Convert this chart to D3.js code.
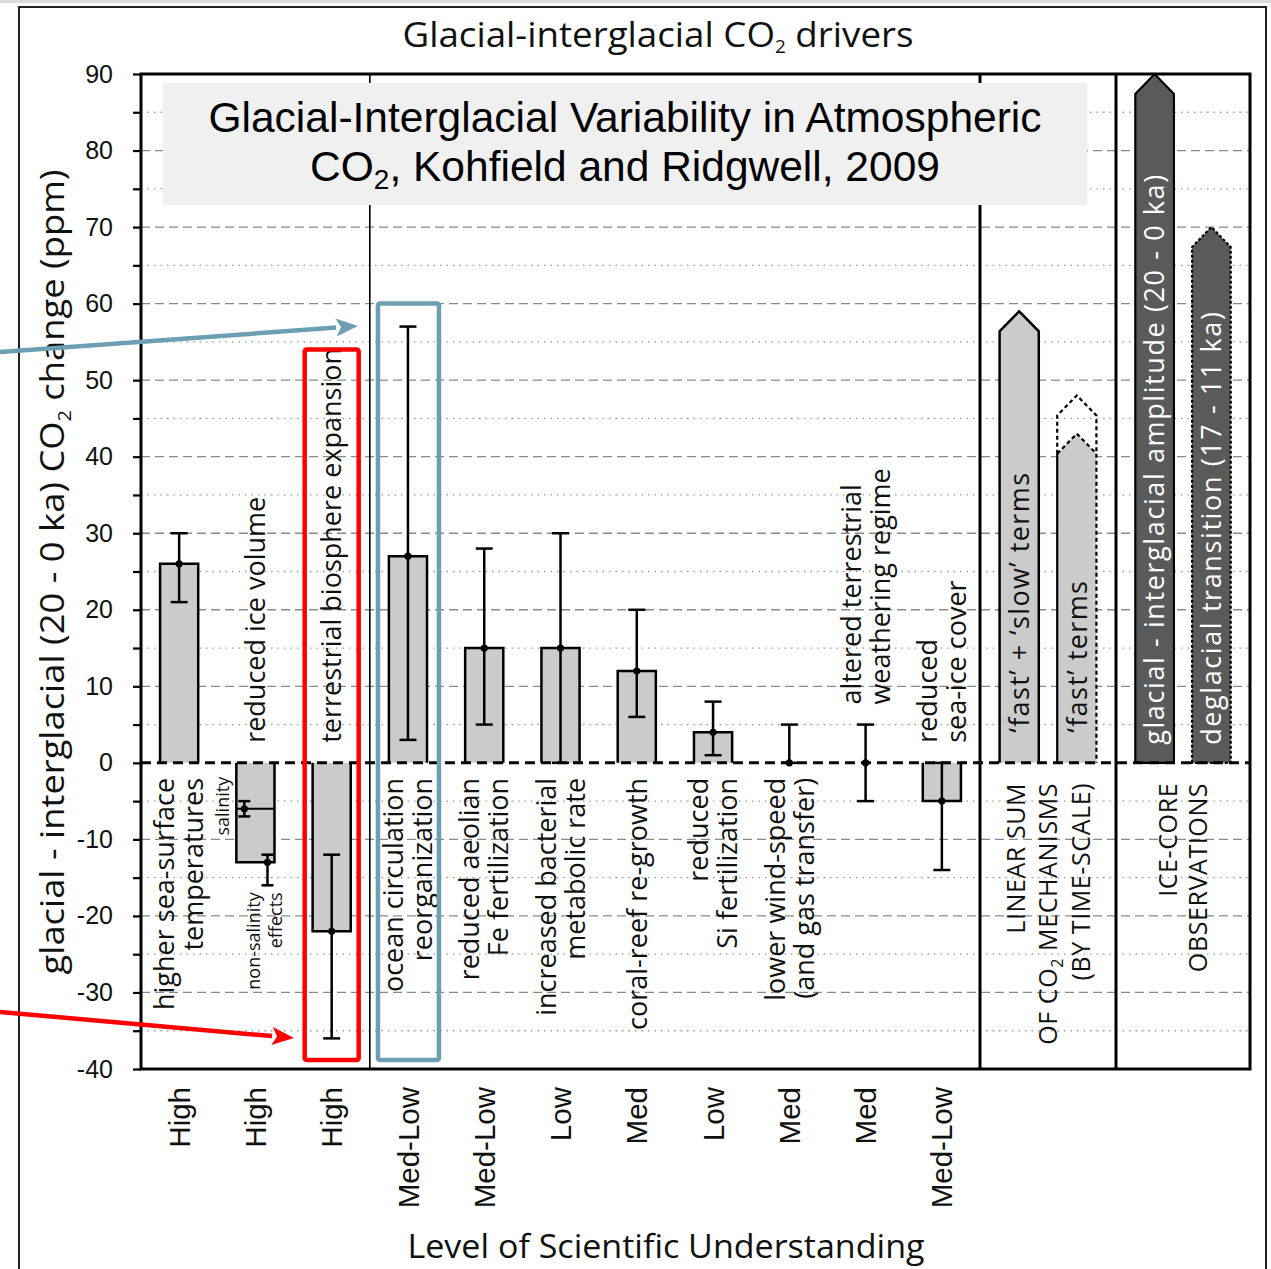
<!DOCTYPE html>
<html lang="en">
<head>
<meta charset="UTF-8">
<title>Glacial-interglacial CO2 drivers</title>
<script src="https://d3js.org/d3.v7.min.js"></script>
<style>
  html, body { margin: 0; padding: 0; background: #fff; }
  svg { display: block; }
  .myriad { font-family: "Open Sans", "DejaVu Sans", sans-serif; }
  .helv { font-family: "Liberation Sans", Arial, sans-serif; }
</style>
</head>
<body>
<div id="chart"></div>
<script>
// ---- data ----
const drivers = [
  ["higher sea-surface", "temperatures"],
  ["reduced ice volume"],
  ["terrestrial biosphere expansion"],
  ["ocean circulation", "reorganization"],
  ["reduced aeolian", "Fe fertilization"],
  ["increased bacterial", "metabolic rate"],
  ["coral-reef re-growth"],
  ["reduced", "Si fertilization"],
  ["lower wind-speed", "(and gas transfer)"],
  ["altered terrestrial", "weathering regime"],
  ["reduced", "sea-ice cover"]
];
const understanding = ["High", "High", "High", "Med-Low", "Med-Low", "Low", "Med", "Low", "Med", "Med", "Med-Low"];
const co2Change = [26, -13, -22, 27, 15, 15, 12, 4, 0, 0, -5];
const errLow  = [21, null, -36, 3, 5, 0, 6, 1, 0, -5, -14];
const errHigh = [30, null, -12, 57, 28, 30, 20, 8, 5, 5, 0];

// reduced ice volume split in two parts
const iceParts = ["salinity", "non-salinity effects"];
const iceValue = [-6, -13];
const iceLow   = [-7, -16];
const iceHigh  = [-5, -12];

// linear sum of mechanisms
const sumLabels = ["\u2018fast\u2019 + \u2018slow\u2019 terms", "\u2018fast\u2019 terms"];
const sumValues = [59, 43];
const sumUpper  = [null, 48];

// ice-core observations
const coreLabels = ["glacial - interglacial amplitude (20 - 0 ka)", "deglacial transition (17 - 11 ka)"];
const coreValues = [90, 70];

const yTicks = d3.range(-40, 91, 10);
const yMinor = d3.range(-35, 90, 10);

// ---- layout ----
const W = 1271, H = 1269;
const pL = 141, pR = 1250, pT = 74, pB = 1069;
const split1 = 980, split2 = 1116;
const LIGHT = "#cbcbcb", DARK = "#5a5a5a";
const head = 20;

const svg = d3.select("#chart").append("svg").attr("width", W).attr("height", H);

const y = d3.scaleLinear().domain([-40, 90]).range([pB, pT]);
const x = d3.scaleBand().domain(d3.range(drivers.length)).range([pL, split1]).paddingInner(0.5).paddingOuter(0.25);
const xSum = d3.scaleBand().domain(d3.range(sumValues.length)).range([split1, split2]).paddingInner(0.32).paddingOuter(0.34);
const xCore = d3.scaleBand().domain(d3.range(coreValues.length)).range([split2, pR]).paddingInner(0.32).paddingOuter(0.34);

// outer frame
svg.append("rect").attr("x", 0).attr("y", 0).attr("width", W).attr("height", 3).attr("fill", "#ddd");
svg.append("path").attr("d", `M19,${H} V7 H1266 V${H}`).attr("fill", "none").attr("stroke", "#222").attr("stroke-width", 2);

// gridlines
svg.append("g").selectAll("line").data(yTicks.filter(d => d > -40 && d < 90 && d !== 0)).join("line")
  .attr("x1", pL).attr("x2", pR).attr("y1", d => y(d)).attr("y2", d => y(d))
  .attr("stroke", "#8a8a8a").attr("stroke-width", 1.3).attr("stroke-dasharray", "9,5");
svg.append("g").selectAll("line").data(yMinor).join("line")
  .attr("x1", pL).attr("x2", pR).attr("y1", d => y(d)).attr("y2", d => y(d))
  .attr("stroke", "#9a9a9a").attr("stroke-width", 1.3).attr("stroke-dasharray", "1.5,5");

// thin separator between high-understanding group and the rest
svg.append("line").attr("x1", pL + x.step() * 3).attr("x2", pL + x.step() * 3)
  .attr("y1", pT).attr("y2", pB).attr("stroke", "#000").attr("stroke-width", 1.6);

// bars (open at the baseline)
const barPath = (x0, w, v) => `M${x0},${y(0)} V${y(v)} H${x0 + w} V${y(0)}`;
const bars = svg.append("g");
co2Change.forEach((v, i) => {
  if (v === 0) return;
  bars.append("rect").attr("x", x(i)).attr("width", x.bandwidth())
    .attr("y", Math.min(y(v), y(0))).attr("height", Math.abs(y(v) - y(0))).attr("fill", LIGHT);
  bars.append("path").attr("d", barPath(x(i), x.bandwidth(), v))
    .attr("fill", "none").attr("stroke", "#000").attr("stroke-width", 2.5);
});
// salinity divider in ice volume bar
bars.append("line").attr("x1", x(1)).attr("x2", x(1) + x.bandwidth())
  .attr("y1", y(iceValue[0])).attr("y2", y(iceValue[0])).attr("stroke", "#000").attr("stroke-width", 2.2);

// error bars
function errorBar(g, cx, lo, hi, v, cap) {
  g.append("line").attr("x1", cx).attr("x2", cx).attr("y1", y(lo)).attr("y2", y(hi)).attr("stroke", "#000").attr("stroke-width", 2.5);
  [lo, hi].forEach(e => g.append("line").attr("x1", cx - cap / 2).attr("x2", cx + cap / 2)
    .attr("y1", y(e)).attr("y2", y(e)).attr("stroke", "#000").attr("stroke-width", 2.5));
  g.append("circle").attr("cx", cx).attr("cy", y(v)).attr("r", 3.6).attr("fill", "#000");
}
const errs = svg.append("g");
co2Change.forEach((v, i) => {
  if (errLow[i] === null) return;
  errorBar(errs, x(i) + x.bandwidth() / 2, errLow[i], errHigh[i], v, 17);
});
const icePartX = [x(1) + 8, x(1) + x.bandwidth() - 7];
iceValue.forEach((v, k) => errorBar(errs, icePartX[k], iceLow[k], iceHigh[k], v, 12));

// linear sum arrows
const arrowPath = (x0, w, v) => `M${x0},${y(0)} V${y(v) + head} L${x0 + w / 2},${y(v)} L${x0 + w},${y(v) + head} V${y(0)}`;
const panels = svg.append("g");
sumValues.forEach((v, i) => {
  const x0 = xSum(i), w = xSum.bandwidth();
  panels.append("path").attr("d", arrowPath(x0, w, v) + "Z").attr("fill", LIGHT);
  if (sumUpper[i] === null) {
    panels.append("path").attr("d", arrowPath(x0, w, v)).attr("fill", "none").attr("stroke", "#000").attr("stroke-width", 2.5);
  } else {
    panels.append("path").attr("d", `M${x0},${y(0)} V${y(v) + head}`).attr("stroke", "#000").attr("stroke-width", 2.2);
    panels.append("path").attr("d", `M${x0},${y(v) + head} L${x0 + w / 2},${y(v)} L${x0 + w},${y(v) + head} V${y(0)}`)
      .attr("fill", "none").attr("stroke", "#000").attr("stroke-width", 2.2).attr("stroke-dasharray", "4,3");
    const u = sumUpper[i];
    panels.append("path").attr("d", `M${x0},${y(v) + head} V${y(u) + head} L${x0 + w / 2},${y(u)} L${x0 + w},${y(u) + head} V${y(v) + head}`)
      .attr("fill", "none").attr("stroke", "#000").attr("stroke-width", 2.2).attr("stroke-dasharray", "4,3");
  }
  panels.append("text").attr("class", "myriad")
    .attr("transform", `translate(${x0 + w / 2},${y(0) - 30}) rotate(-90)`)
    .attr("dy", "0.36em").attr("font-size", 27).attr("letter-spacing", 1.4).attr("fill", "#111").text(sumLabels[i]);
});

// ice core arrows
coreValues.forEach((v, i) => {
  const x0 = xCore(i), w = xCore.bandwidth();
  panels.append("path").attr("d", arrowPath(x0, w, v) + "Z").attr("fill", DARK)
    .attr("stroke", "#000").attr("stroke-width", 2.2).attr("stroke-dasharray", i === 0 ? null : "3,2");
  panels.append("text").attr("class", "myriad")
    .attr("transform", `translate(${x0 + w / 2},${y(0) - 18}) rotate(-90)`)
    .attr("dy", "0.36em").attr("font-size", 27).attr("letter-spacing", 1.6).attr("fill", "#fff").text(coreLabels[i]);
});

// zero line
svg.append("line").attr("x1", pL).attr("x2", pR).attr("y1", y(0)).attr("y2", y(0))
  .attr("stroke", "#000").attr("stroke-width", 3).attr("stroke-dasharray", "10,6");

// plot frame and panel separators
svg.append("rect").attr("x", pL).attr("y", pT).attr("width", pR - pL).attr("height", pB - pT)
  .attr("fill", "none").attr("stroke", "#000").attr("stroke-width", 3);
[split1, split2].forEach(sx => svg.append("line").attr("x1", sx).attr("x2", sx).attr("y1", pT).attr("y2", pB)
  .attr("stroke", "#000").attr("stroke-width", 3));

// y axis
const yAxis = svg.append("g").attr("transform", `translate(${pL},0)`)
  .call(d3.axisLeft(y).tickValues(yTicks).tickSize(8).tickPadding(20).tickFormat(d => String(d)));
svg.append("g").attr("transform", `translate(${pL},0)`)
  .call(d3.axisLeft(y).tickValues(yMinor).tickSize(8).tickFormat(""))
  .call(g => g.select(".domain").remove());
yAxis.select(".domain").remove();
svg.selectAll(".tick line").attr("stroke", "#000").attr("stroke-width", 2.2);
yAxis.selectAll("text").attr("font-family", "Liberation Sans, Arial, sans-serif").attr("font-size", 25).attr("fill", "#111");

// driver labels
const lineH = 29;
const labels = svg.append("g").attr("class", "myriad").attr("font-size", 27).attr("fill", "#111");
drivers.forEach((lines, i) => {
  const cx = x(i) + x.bandwidth() / 2;
  const above = errLow[i] !== null ? errLow[i] < 0 : co2Change[i] < 0;
  const yTop = errHigh[i] !== null ? Math.max(errHigh[i], 0) : 0;
  const ya = above ? y(yTop) - 20 : y(0) + 15;
  lines.forEach((t, k) => {
    labels.append("text")
      .attr("transform", `translate(${cx + (k - (lines.length - 1) / 2) * lineH},${ya}) rotate(-90)`)
      .attr("dy", "0.36em").attr("text-anchor", above ? "start" : "end").text(t);
  });
});
// ice volume part labels
labels.append("text").attr("font-size", 18)
  .attr("transform", `translate(${x(1) - 14},${y(0) + 14}) rotate(-90)`)
  .attr("dy", "0.36em").attr("text-anchor", "end").text(iceParts[0]);
const nsLines = ["non-salinity", "effects"];
nsLines.forEach((t, k) => labels.append("text").attr("font-size", 18)
  .attr("transform", `translate(${icePartX[1] - 14 + k * 22},${y(iceLow[1]) + 7}) rotate(-90)`)
  .attr("dy", "0.36em").attr("text-anchor", "end").text(t));

// understanding labels
const und = svg.append("g").attr("class", "helv").attr("font-size", 29.5).attr("fill", "#111");
understanding.forEach((t, i) => {
  und.append("text").attr("transform", `translate(${x(i) + x.bandwidth() / 2},${pB + 18}) rotate(-90)`)
    .attr("dy", "0.36em").attr("text-anchor", "end").text(t);
});

// panel labels under the baseline
[["LINEAR SUM"], ["OF CO", "2", " MECHANISMS"], ["(BY TIME-SCALE)"]].forEach((parts, k) => {
  const t = svg.append("text").attr("class", "myriad").attr("font-size", 25).attr("fill", "#111").attr("letter-spacing", 0.6)
    .attr("transform", `translate(${(split1 + split2) / 2 + (k - 1) * 32.5},${y(0) + 20}) rotate(-90)`)
    .attr("dy", "0.36em").attr("text-anchor", "end");
  parts.forEach((p, j) => {
    const ts = t.append("tspan").text(p);
    if (p === "2") ts.attr("font-size", 16).attr("dy", 6);
    if (j === 2) ts.attr("dy", -6);
  });
});
["ICE-CORE", "OBSERVATIONS"].forEach((t, k) => {
  svg.append("text").attr("class", "myriad").attr("font-size", 25).attr("fill", "#111").attr("letter-spacing", 0.6)
    .attr("transform", `translate(${(split2 + pR) / 2 + (k - 0.5) * 30},${y(0) + 20}) rotate(-90)`)
    .attr("dy", "0.36em").attr("text-anchor", "end").text(t);
});

// inner title box
svg.append("rect").attr("x", 163).attr("y", 83).attr("width", 924).attr("height", 122).attr("fill", "#f0f0f0");
const boxText = svg.append("g").attr("class", "helv").attr("font-size", 42.5).attr("fill", "#000").attr("text-anchor", "middle");
boxText.append("text").attr("x", 625).attr("y", 132).text("Glacial-Interglacial Variability in Atmospheric");
const l2 = boxText.append("text").attr("x", 625).attr("y", 181);
l2.append("tspan").text("CO");
l2.append("tspan").attr("font-size", 28).attr("dy", 8).text("2");
l2.append("tspan").attr("dy", -8).text(", Kohfield and Ridgwell, 2009");

// chart title
const title = svg.append("text").attr("class", "myriad").attr("x", 658).attr("y", 47)
  .attr("text-anchor", "middle").attr("font-size", 35).attr("fill", "#111")
  .attr("textLength", 511).attr("lengthAdjust", "spacingAndGlyphs");
title.append("tspan").text("Glacial-interglacial CO");
title.append("tspan").attr("font-size", 18).attr("dy", 6).text("2");
title.append("tspan").attr("dy", -6).text(" drivers");

// y axis title
const yt = svg.append("text").attr("class", "myriad").attr("transform", `translate(52,572) rotate(-90)`)
  .attr("text-anchor", "middle").attr("dy", "0.36em").attr("font-size", 33).attr("fill", "#111")
  .attr("textLength", 805).attr("lengthAdjust", "spacingAndGlyphs");
yt.append("tspan").text("glacial - interglacial (20 - 0 ka) CO");
yt.append("tspan").attr("font-size", 18).attr("dy", 7).text("2");
yt.append("tspan").attr("dy", -7).text(" change (ppm)");

// x axis title
svg.append("text").attr("class", "myriad").attr("x", 666).attr("y", 1258).attr("text-anchor", "middle")
  .attr("font-size", 33).attr("fill", "#111").attr("textLength", 517).attr("lengthAdjust", "spacingAndGlyphs")
  .text("Level of Scientific Understanding");

// highlight boxes and arrows
const BLUE = "#6c9fb1", RED = "#ff0000";
const xc3 = x(2) + x.bandwidth() / 2, xc4 = x(3) + x.bandwidth() / 2;
svg.append("rect").attr("x", xc3 - 27).attr("y", y(54)).attr("width", 54).attr("height", 1060 - y(54))
  .attr("rx", 2).attr("fill", "none").attr("stroke", RED).attr("stroke-width", 4.5);
svg.append("rect").attr("x", xc4 - 30).attr("y", y(60)).attr("width", 61).attr("height", 1060 - y(60))
  .attr("rx", 2).attr("fill", "none").attr("stroke", BLUE).attr("stroke-width", 4.5);

function arrow(x1, y1, x2, y2, color) {
  const a = Math.atan2(y2 - y1, x2 - x1), L = 22, Wd = 9;
  const bx = x2 - L * Math.cos(a), by = y2 - L * Math.sin(a);
  svg.append("line").attr("x1", x1).attr("y1", y1).attr("x2", bx).attr("y2", by)
    .attr("stroke", color).attr("stroke-width", 4.5);
  const px = -Math.sin(a) * Wd, py = Math.cos(a) * Wd;
  svg.append("path").attr("d", `M${x2},${y2} L${bx + px},${by + py} L${bx + 5 * Math.cos(a)},${by + 5 * Math.sin(a)} L${bx - px},${by - py} Z`)
    .attr("fill", color);
}
arrow(0, 352, 358, 326, BLUE);
arrow(0, 1012, 294, 1038, RED);
</script>
</body>
</html>
